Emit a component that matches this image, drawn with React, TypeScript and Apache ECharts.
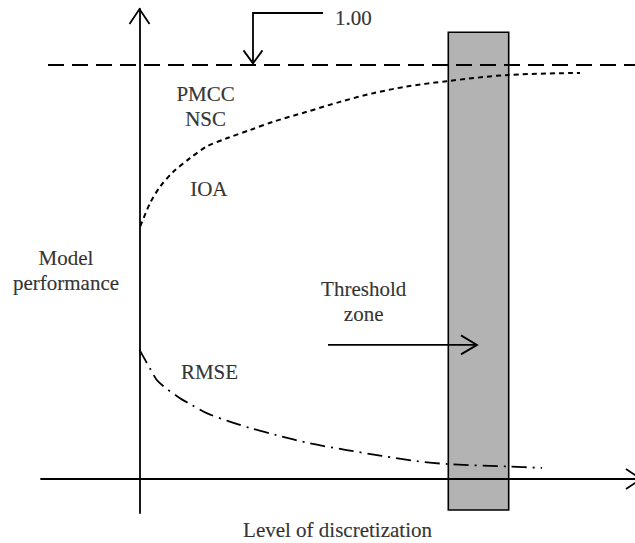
import React, { useEffect, useRef } from "react";
import * as echarts from "echarts";

// ---- axis ranges (conceptual units: x = level of discretization, y = model performance) ----
const X_MIN = -2.189;
const X_MAX = 11.011;
const Y_MIN = -0.0821;
const Y_MAX = 1.1353;

// ---- axis titles ----
const xTitle = "Level of discretization";
const yTitle = "Model\nperformance";

// ---- curves ----
const ioaX = [0.02, 0.233, 0.456, 0.751, 1.122, 1.493, 1.938, 2.456, 2.973, 3.716, 4.456, 5.196, 5.938, 6.827, 8.189, 9.789];
const ioaY = [0.611, 0.666, 0.706, 0.742, 0.775, 0.803, 0.823, 0.843, 0.863, 0.887, 0.911, 0.932, 0.948, 0.961, 0.976, 0.981];

const rmseX = [0, 0.233, 0.418, 0.9, 1.16, 1.493, 1.973, 2.493, 3.049, 3.789, 4.604, 5.382, 6.16, 6.862, 8.211, 8.944];
const rmseY = [0.312, 0.267, 0.235, 0.195, 0.179, 0.159, 0.14, 0.122, 0.106, 0.086, 0.07, 0.056, 0.043, 0.036, 0.03, 0.027];

// ---- reference level 1.00 ----
const referenceLevel = 1.0;
const referenceX = [-2.033, X_MAX];

// ---- threshold zone ----
const thresholdZoneX = [6.862, 8.204];
const thresholdZoneY = [-0.075, 1.079];

// ---- annotation labels (incl. axis titles) ----
const labelTexts = ["PMCC\nNSC", "IOA", "RMSE", "Threshold\nzone", "1.00", yTitle, xTitle];
const labelX = [1.469, 1.54, 1.556, 4.982, 4.344, -1.633, 4.4];
const labelY = [0.9, 0.7, 0.258, 0.429, 1.114, 0.504, -0.124];
const labelAlign = ["center", "center", "center", "center", "left", "center", "center"];

// ---- arrows (data coordinates); last point is the arrow tip ----
const arrowPoints = [
  [[0, Y_MAX - 0.1], [0, Y_MAX]], // y-axis head
  [[X_MAX - 1, 0], [11.144, 0]], // x-axis head
  [[4.078, 1.1256], [2.522, 1.1256], [2.522, 1.004]], // 1.00 callout
  [[4.189, 0.324], [7.5, 0.324]], // threshold arrow
];
const arrowDrawShaft = [false, false, true, true];
const arrowHeadLen = [15, 15, 13, 16];
const arrowHeadHalf = [10, 10, 9.5, 9.5];

const FONT = '"Liberation Serif", "Times New Roman", serif';
const INK = "#000";

export default function App() {
  const ref = useRef<HTMLDivElement>(null);

  useEffect(() => {
    if (!ref.current) return;
    const chart = echarts.init(ref.current, undefined, { renderer: "svg" });

    const textStyle = {
      fontFamily: FONT,
      fontSize: 21,
      color: INK,
      lineHeight: 25,
      textBorderColor: INK,
      textBorderWidth: 0.2,
    };

    const hiddenAxis = {
      type: "value",
      z: 5,
      axisLine: { onZero: true, lineStyle: { color: "#000", width: 1.8 } },
      axisTick: { show: false },
      axisLabel: { show: false },
      splitLine: { show: false },
    };

    const option: any = {
      animation: false,
      backgroundColor: "#fff",
      grid: { left: 41, right: 0, top: 9, bottom: 30, outerBoundsMode: "none" },
      xAxis: { ...hiddenAxis, min: X_MIN, max: X_MAX },
      yAxis: { ...hiddenAxis, min: Y_MIN, max: Y_MAX },
      series: [
        {
          type: "custom",
          name: "Threshold zone",
          z: 1,
          renderItem: (params: any, api: any) => {
            const p1 = api.coord([thresholdZoneX[0], thresholdZoneY[1]]);
            const p2 = api.coord([thresholdZoneX[1], thresholdZoneY[0]]);
            return {
              type: "rect",
              shape: { x: p1[0], y: p1[1], width: p2[0] - p1[0], height: p2[1] - p1[1] },
              style: { fill: "#b3b3b3", stroke: "#000", lineWidth: 1.6 },
            };
          },
          data: [[thresholdZoneX[0], thresholdZoneY[0]]],
        },
        {
          type: "line",
          name: "1.00",
          z: 3,
          symbol: "none",
          lineStyle: { color: "#000", width: 2, type: [16, 8] },
          data: referenceX.map((x) => [x, referenceLevel]),
        },
        {
          type: "line",
          name: "PMCC / NSC / IOA",
          z: 3,
          symbol: "none",
          smooth: 0.3,
          lineStyle: { color: "#000", width: 2, type: [5, 4] },
          data: ioaX.map((x, i) => [x, ioaY[i]]),
        },
        {
          type: "line",
          name: "RMSE",
          z: 3,
          symbol: "none",
          smooth: 0.3,
          lineStyle: { color: "#000", width: 1.8, type: [15, 6, 2, 6] },
          data: rmseX.map((x, i) => [x, rmseY[i]]),
        },
        {
          type: "custom",
          name: "arrows",
          z: 4,
          clip: false,
          renderItem: (params: any, api: any) => {
            const i = params.dataIndex;
            const pts = arrowPoints[i].map((p) => api.coord(p));
            const tip = pts[pts.length - 1];
            const prev = pts[pts.length - 2];
            const dx = tip[0] - prev[0];
            const dy = tip[1] - prev[1];
            const d = Math.hypot(dx, dy) || 1;
            const ux = dx / d;
            const uy = dy / d;
            const nx = -uy;
            const ny = ux;
            const L = arrowHeadLen[i];
            const W = arrowHeadHalf[i];
            const head = [
              [tip[0] - L * ux + W * nx, tip[1] - L * uy + W * ny],
              tip,
              [tip[0] - L * ux - W * nx, tip[1] - L * uy - W * ny],
            ];
            const children: any[] = [];
            if (arrowDrawShaft[i]) {
              children.push({
                type: "polyline",
                shape: { points: pts },
                style: { stroke: "#000", fill: "none", lineWidth: 1.8 },
              });
            }
            children.push({
              type: "polyline",
              shape: { points: head },
              style: { stroke: "#000", fill: "none", lineWidth: 1.8 },
            });
            return { type: "group", children };
          },
          data: arrowPoints.map((p) => p[p.length - 1]),
        },
        {
          type: "scatter",
          name: "labels",
          z: 6,
          clip: false,
          symbolSize: 0.1,
          itemStyle: { color: "transparent" },
          label: {
            show: true,
            position: "inside",
            formatter: "{b}",
            ...textStyle,
          },
          data: labelTexts.map((t, i) => ({
            name: t,
            value: [labelX[i], labelY[i]],
            label: { align: labelAlign[i] },
          })),
        },
      ],
    };

    chart.setOption(option);
    return () => chart.dispose();
  }, []);

  return (
    <div
      ref={ref}
      style={{ position: "absolute", left: 0, top: 0, width: 635, height: 543 }}
    />
  );
}
